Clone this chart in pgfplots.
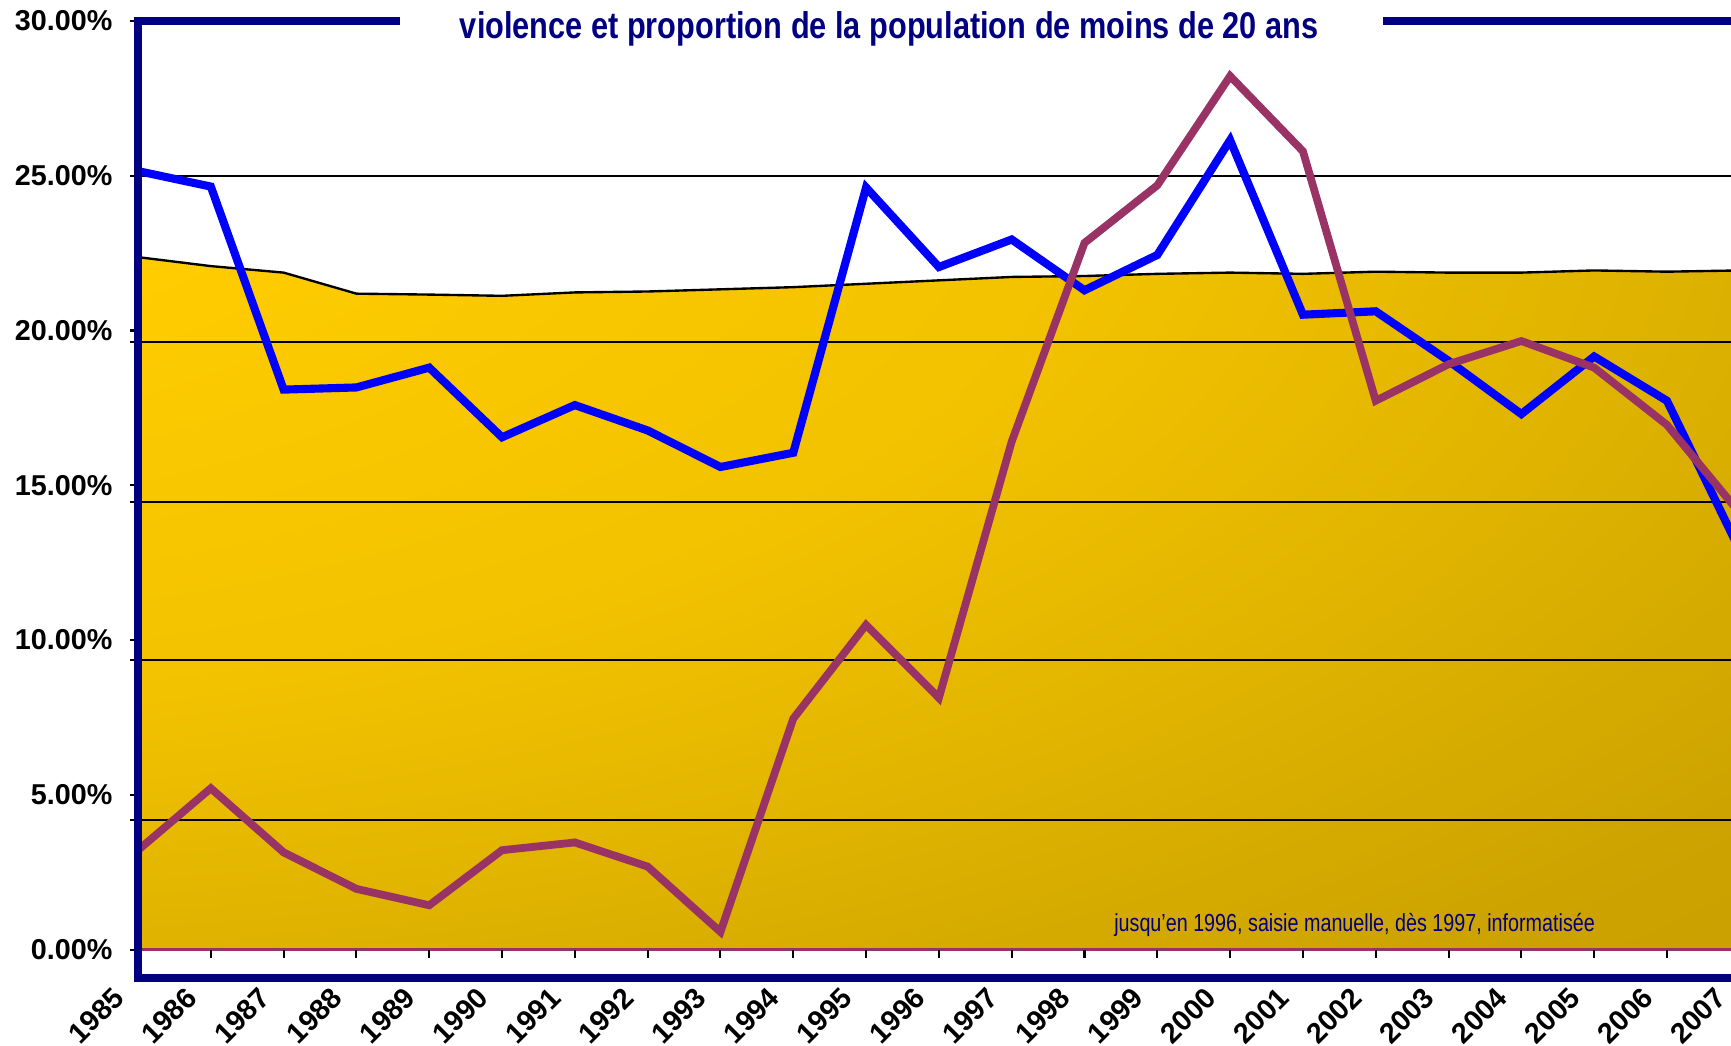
\documentclass[border=0pt]{standalone}
\usepackage{pgfplots}
\pgfplotsset{compat=1.18}
\usepackage{graphicx}
\usepackage{fontspec}
\setmainfont{Liberation Sans}
\usetikzlibrary{calc}
\definecolor{navy}{HTML}{000080}
\definecolor{cblue}{HTML}{0000FF}
\definecolor{cplum}{HTML}{993366}
\definecolor{gA}{HTML}{FFCC00}
\definecolor{gB}{HTML}{F2C200}
\definecolor{gC}{HTML}{DEB200}
\definecolor{gD}{HTML}{CDA300}
\definecolor{gE}{HTML}{C49C00}
\definecolor{gF}{HTML}{C29A00}
\pgfdeclareradialshading{goldrad}{\pgfpoint{-45bp}{42bp}}{color(0bp)=(gA); color(20bp)=(gA); color(40bp)=(gB); color(54bp)=(gC); color(66bp)=(gD); color(80bp)=(gE); color(100bp)=(gF); color(170bp)=(gF)}

\pgfplotstableread{
year val
1985 25.15
1986 24.65
1987 18.09
1988 18.16
1989 18.80
1990 16.55
1991 17.59
1992 16.77
1993 15.59
1994 16.05
1995 24.62
1996 22.05
1997 22.94
1998 21.30
1999 22.44
2000 26.15
2001 20.51
2002 20.62
2003 19.02
2004 17.30
2005 19.16
2006 17.73
2007 12.90
}\tblblue

\pgfplotstableread{
year val
1985 3.21
1986 5.21
1987 3.14
1988 1.96
1989 1.43
1990 3.21
1991 3.46
1992 2.68
1993 0.57
1994 7.46
1995 10.49
1996 8.13
1997 16.41
1998 22.83
1999 24.69
2000 28.22
2001 25.79
2002 17.73
2003 18.91
2004 19.66
2005 18.80
2006 16.95
2007 14.10
}\tblplum

\pgfplotstableread{
year val
1985 22.37
1986 22.08
1987 21.87
1988 21.19
1989 21.16
1990 21.12
1991 21.23
1992 21.26
1993 21.33
1994 21.40
1995 21.51
1996 21.62
1997 21.73
1998 21.76
1999 21.83
2000 21.87
2001 21.83
2002 21.90
2003 21.87
2004 21.87
2005 21.94
2006 21.90
2007 21.94
}\tblpop

\begin{document}
\begin{tikzpicture}
% gradient behind the area, axis box sits at (0,0)
\shade[shading=goldrad] (0,0.2983cm) rectangle (16.654cm,7.539cm);
\begin{axis}[
  at={(0,0)}, anchor=south west,
  scale only axis,
  width=16.654cm, height=9.953cm,
  xmin=1985, xmax=2007, ymin=-0.927, ymax=30,
  axis line style={draw=none},
  tick align=outside,
  major tick length=0.08cm,
  xtick={1985,1986,...,2007},
  xticklabels={1985,1986,1987,1988,1989,1990,1991,1992,1993,1994,1995,1996,1997,1998,1999,2000,2001,2002,2003,2004,2005,2006,2007},
  xtick style={draw=none},
  xticklabel style={font=\bfseries\fontsize{8.5}{10}\selectfont, xshift=-0.275cm, yshift=0.012cm, rotate=45, anchor=north east, inner sep=0pt},
  ytick={0,5,...,30},
  yticklabels={0.00\%,5.00\%,10.00\%,15.00\%,20.00\%,25.00\%,30.00\%},
  ytick style={black, line width=0.6pt},
  yticklabel style={font=\bfseries\fontsize{8.5}{10}\selectfont, anchor=east, inner sep=0pt, xshift=-0.18cm},
  extra y ticks={4.17,9.35,14.45,19.62,25},
  extra y tick labels={},
]
\addplot[fill=white, draw=none] table[x=year,y=val]{\tblpop} -- (axis cs:2007,30) -- (axis cs:1985,30) -- cycle;
\addplot[black, line width=0.7pt] table[x=year,y=val]{\tblpop};
\pgfplotsinvokeforeach{4.17,9.35,14.45,19.62,25}{\draw[black, line width=0.6pt] (axis cs:1985,#1) -- (axis cs:2007,#1);}
\addplot[cblue, line width=2.4pt, line join=miter, miter limit=3] table[x=year,y=val]{\tblblue};
\addplot[cplum, line width=2.3pt, line join=miter, miter limit=3] table[x=year,y=val]{\tblplum};
\addplot[cplum, line width=1.1pt] coordinates {(1985,0)(2007,0)};
\pgfplotsinvokeforeach{1986,1987,...,2007}{\draw[black, line width=0.6pt] (axis cs:#1,0) -- ++(0pt,-0.092cm);}
\node[navy, inner sep=0pt] at (axis cs:2001.71,0.78) {\fontsize{7.3}{9}\selectfont\scalebox{0.8}[1]{jusqu'en 1996, saisie manuelle, dès 1997, informatisée}};
\coordinate (bl) at (rel axis cs:0,0);
\coordinate (tl) at (rel axis cs:0,1);
\coordinate (tr) at (rel axis cs:1,1);
\coordinate (cutr) at (axis cs:2006.88,30);
\end{axis}
\draw[navy, line width=2.5pt, line join=miter] ($(tr)+(0.3,0)$) -- (tl) -- (bl) -- ($(bl -| tr)+(0.3,0)$);
\fill[white] ($(tl)+(2.72cm,-0.15cm)$) rectangle ($(tl)+(12.94cm,0.15cm)$);
\node[navy, inner sep=0pt, anchor=base] at ($(tl)+(7.81cm,-0.184cm)$) {\fontsize{11}{13}\selectfont\bfseries\scalebox{0.826}[1]{violence et proportion de la population de moins de 20 ans}};
\pgfresetboundingbox
\path[use as bounding box] ($(bl)+(-1.435cm,-0.700cm)$) rectangle ($(cutr)+(0,0.218cm)$);
\end{tikzpicture}
\end{document}
